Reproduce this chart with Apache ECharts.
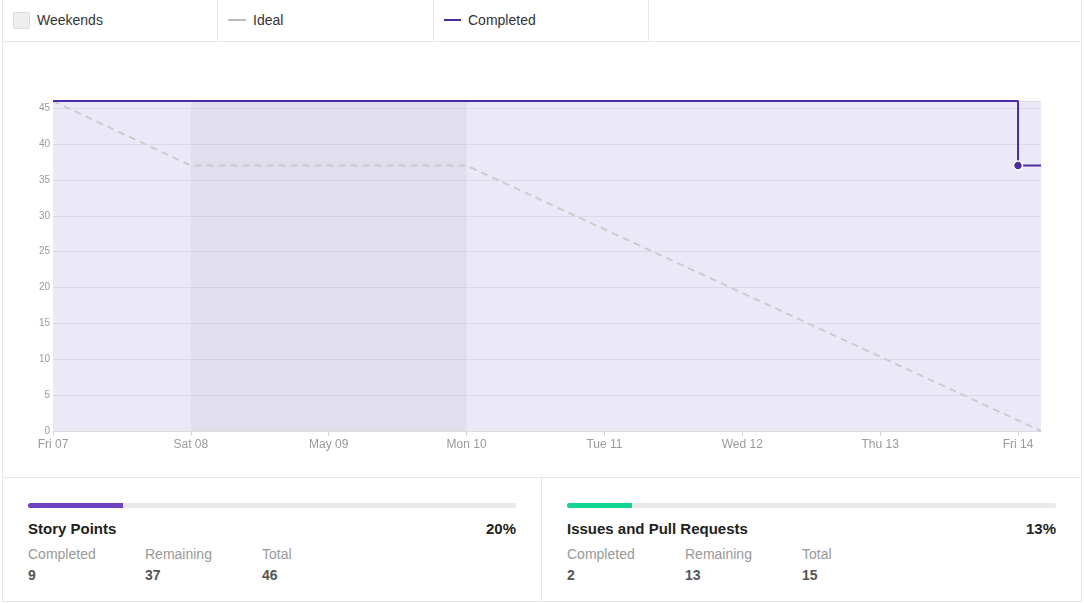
<!DOCTYPE html>
<html><head><meta charset="utf-8">
<script src="https://cdn.jsdelivr.net/npm/echarts@6/dist/echarts.min.js"></script>
<style>
html,body{margin:0;padding:0;background:#fff;font-family:"Liberation Sans",Arial,sans-serif;}
#wrap{position:absolute;left:2px;top:-1px;width:1078px;height:601px;border:1px solid #e6e6e6;}
#legend{position:absolute;left:0;top:0;width:1078px;height:41px;border-bottom:1px solid #e6e6e6;}
.cell{position:absolute;top:0;height:41px;width:214px;border-right:1px solid #e6e6e6;font-size:14px;color:#333;}
.cell span.t{position:absolute;top:12px;line-height:16px;}
.sw{position:absolute;}
#chart{position:absolute;left:0;top:42px;width:1078px;height:435px;}
#bottom{position:absolute;left:0;top:477px;width:1078px;height:124px;border-top:1px solid #e6e6e6;}
.panel{position:absolute;top:0;height:124px;}
.bar{position:absolute;top:25px;height:5px;border-radius:3px;background:#e9e9e9;}
.fill{position:absolute;left:0;top:0;height:5px;border-radius:3px 0 0 3px;}
.title{position:absolute;top:42px;font-size:15px;font-weight:bold;color:#222;line-height:18px;}
.pct{position:absolute;top:42px;font-size:15px;font-weight:bold;color:#222;line-height:18px;text-align:right;}
.lab{position:absolute;top:68px;font-size:14px;color:#999;line-height:16px;}
.val{position:absolute;top:89px;font-size:14px;font-weight:bold;color:#555;line-height:16px;}
</style></head>
<body>
<div id="wrap">
  <div id="legend">
    <div class="cell" style="left:0;">
      <div class="sw" style="left:10px;top:12px;width:15px;height:15px;background:#eeeeee;border:1px solid #dcdcdc;border-radius:2px;"></div>
      <span class="t" style="left:34px;">Weekends</span>
    </div>
    <div class="cell" style="left:215px;width:215px;">
      <div class="sw" style="left:10px;top:19px;width:18px;height:2px;background:#bbbbbb;"></div>
      <span class="t" style="left:35px;">Ideal</span>
    </div>
    <div class="cell" style="left:431px;width:214px;">
      <div class="sw" style="left:10px;top:19px;width:17px;height:2px;background:#4c2c9f;"></div>
      <span class="t" style="left:34px;">Completed</span>
    </div>
  </div>
  <div id="chart"></div>
  <div id="bottom">
    <div class="panel" style="left:0;width:538px;border-right:1px solid #e6e6e6;">
      <div class="bar" style="left:25px;width:488px;"><div class="fill" style="width:95px;background:#6f42c1;"></div></div>
      <div class="title" style="left:25px;">Story Points</div>
      <div class="pct" style="right:25px;">20%</div>
      <div class="lab" style="left:25px;">Completed</div>
      <div class="lab" style="left:142px;">Remaining</div>
      <div class="lab" style="left:259px;">Total</div>
      <div class="val" style="left:25px;">9</div>
      <div class="val" style="left:142px;">37</div>
      <div class="val" style="left:259px;">46</div>
    </div>
    <div class="panel" style="left:539px;width:539px;">
      <div class="bar" style="left:25px;width:489px;"><div class="fill" style="width:65px;background:#12d68f;"></div></div>
      <div class="title" style="left:25px;">Issues and Pull Requests</div>
      <div class="pct" style="right:25px;">13%</div>
      <div class="lab" style="left:25px;">Completed</div>
      <div class="lab" style="left:143px;">Remaining</div>
      <div class="lab" style="left:260px;">Total</div>
      <div class="val" style="left:25px;">2</div>
      <div class="val" style="left:143px;">13</div>
      <div class="val" style="left:260px;">15</div>
    </div>
  </div>
</div>
<script>
// Day labels for x-axis ticks (day index 0..7)
const dayLabels = ['Fri 07','Sat 08','May 09','Mon 10','Tue 11','Wed 12','Thu 13','Fri 14'];
const sprintEnd = 7.1667; // sprint ends a few hours into Fri 14
const weekendStart = 1, weekendEnd = 3;
// Ideal burndown (day index, points)
const idealX = [0, 1, 3, sprintEnd];
const idealY = [46, 37, 37, 0];
// Completed (remaining points) line
const completedX = [0, 7, 7, sprintEnd];
const completedY = [46, 46, 37, 37];
const yTicks = [0,5,10,15,20,25,30,35,40,45];

const chart = echarts.init(document.getElementById('chart'), null, {renderer:'canvas'});
const idealData = idealX.map((x,i)=>[x, idealY[i]]);
const completedData = completedX.map((x,i)=>{
  const d = {value:[x, completedY[i]], symbol:'none'};
  if (i === 2) { d.symbol = 'circle'; }
  return d;
});
chart.setOption({
  animation:false,
  grid:{left:50,top:59,width:988,height:330,show:true,backgroundColor:'#ebe9f7',borderWidth:0},
  xAxis:{type:'value',min:0,max:sprintEnd,interval:1,
    axisLine:{show:true,lineStyle:{color:'#dddddd'}},
    axisTick:{show:true,length:5,lineStyle:{color:'#d6d6d6'}},
    splitLine:{show:false},
    axisLabel:{color:'#9a9a9a',fontSize:12,margin:8,fontFamily:'Liberation Sans',showMaxLabel:false,
      formatter:v=>{const i=Math.round(v);return Math.abs(v-i)<1e-6 && dayLabels[i]?dayLabels[i]:'';}}
  },
  yAxis:{type:'value',min:0,max:46,interval:5,
    axisLine:{show:false},axisTick:{show:false},
    splitLine:{show:true,lineStyle:{color:'#dcdae6',width:1}},
    axisLabel:{color:'#9a9a9a',fontSize:10,margin:3,fontFamily:'Liberation Sans',showMaxLabel:false,
      formatter:v=>yTicks.indexOf(v)>=0?String(v):''}
  },
  series:[
    {type:'line',name:'Ideal',data:idealData,symbol:'none',z:3,
      lineStyle:{color:'#cccccc',width:2,type:[7,5]},
      markArea:{silent:true,itemStyle:{color:'rgba(135,133,157,0.1)'},
        data:[[{xAxis:weekendStart},{xAxis:weekendEnd}]]}},
    {type:'line',name:'Completed',data:completedData,symbolSize:9,showAllSymbol:true,z:4,
      lineStyle:{color:'#4c2c9f',width:2},
      itemStyle:{color:'#4c2c9f',borderColor:'#ffffff',borderWidth:1.5}}
  ]
});
</script>
</body></html>
